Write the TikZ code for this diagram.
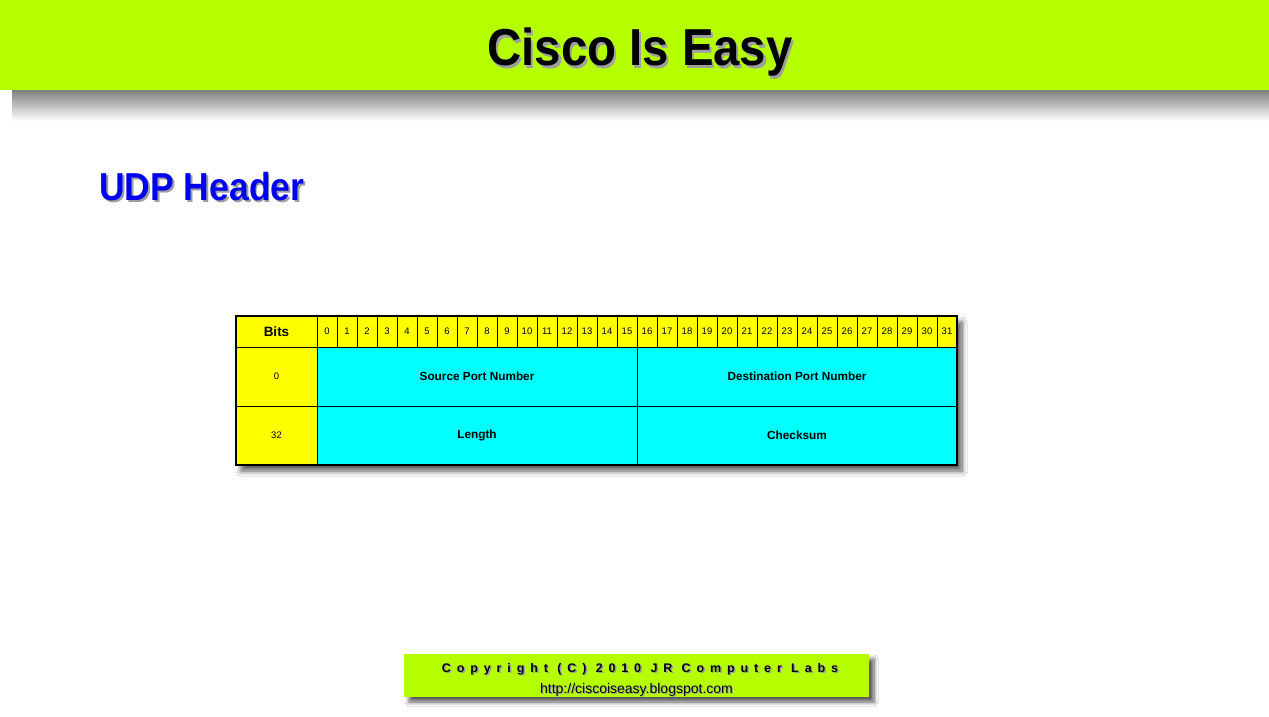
\documentclass[tikz,border=0pt]{standalone}
\usepackage{fontspec}
\setmainfont{Liberation Sans}
\usetikzlibrary{shadows.blur}
\definecolor{limeg}{HTML}{B5FF00}
\definecolor{cellyel}{HTML}{FFFF00}
\definecolor{cellcyan}{HTML}{00FFFF}
\definecolor{udpblue}{HTML}{0000F2}
\newcommand{\shtext}[3]{\makebox[0pt][l]{\hspace*{#1}\raisebox{-#1}{\textcolor{black!38}{#2}}}#3}
\begin{document}
\begin{tikzpicture}[x=1pt,y=-1pt,
  cell/.style={draw=black, line width=0.8pt, inner sep=0pt, outer sep=0pt, anchor=center},
  bitcell/.style={cell, fill=cellyel, minimum width=20pt, minimum height=31pt, font=\fontsize{9.5}{10}\selectfont},
  labcell/.style={cell, fill=cellyel, minimum width=81pt, minimum height=59pt, font=\fontsize{9.5}{10}\selectfont},
  fieldcell/.style={cell, fill=cellcyan, minimum width=320pt, minimum height=59pt, font=\fontsize{11.8}{13}\selectfont\bfseries}
]
\useasboundingbox (0,0) rectangle (1269,717);
\fill[white] (0,0) rectangle (1269,717);
% top banner with its shadow
\shade[top color=black!50, bottom color=white] (12,90) rectangle (1269,121);
\fill[limeg] (0,0) rectangle (1269,90);
\node[font=\fontsize{52}{60}\selectfont\bfseries, xscale=0.91, anchor=base] (title) at (640,66) {\shtext{2.5pt}{Cisco Is Easy}{Cisco Is Easy}};
% section heading
\node[font=\fontsize{39}{44}\selectfont\bfseries, xscale=0.91, anchor=base west, inner sep=0pt] (udp) at (99,200) {\shtext{2pt}{UDP Header}{\textcolor{udpblue}{UDP Header}}};
% table shadow
\path[fill=white, blur shadow={shadow xshift=5pt, shadow yshift=-6pt, shadow blur steps=10, shadow blur radius=5pt, shadow opacity=65}] (236,316) rectangle (957,465);
% header row
\node[cell, fill=cellyel, minimum width=81pt, minimum height=31pt, font=\fontsize{13.5}{15}\selectfont\bfseries] (bits) at (276.5,331.5) {Bits};
\foreach \i in {0,...,31}{
  \node[bitcell] (b\i) at ({327+20*\i},331.5) {\i};
}
% rows
\node[labcell] (r0) at (276.5,376.5) {0};
\node[labcell] (r32) at (276.5,435.5) {32};
\node[fieldcell] (src) at (477,376.5) {Source Port Number};
\node[fieldcell] (dst) at (797,376.5) {Destination Port Number};
\node[fieldcell] (len) at (477,435.5) {Length};
\node[fieldcell] (chk) at (797,435.5) {Checksum};
\draw[line width=2pt] (236,316) rectangle (957,465);
% footer
\node[fill=limeg, minimum width=465pt, minimum height=43pt, inner sep=0pt,
      blur shadow={shadow xshift=5pt, shadow yshift=-5pt, shadow blur steps=8, shadow blur radius=4pt, shadow opacity=65}] (foot) at (636.5,675.5) {};
\node[font=\fontsize{12.5}{14}\selectfont\bfseries\addfontfeature{LetterSpace=47}, anchor=base] (copy) at (640,672) {\shtext{1.5pt}{Copyright (C) 2010 JR Computer Labs}{Copyright (C) 2010 JR Computer Labs}};
\node[font=\fontsize{14}{16}\selectfont, anchor=base] (url) at (636.5,693) {\shtext{1pt}{http://ciscoiseasy.blogspot.com}{http://ciscoiseasy.blogspot.com}};
\end{tikzpicture}
\end{document}
